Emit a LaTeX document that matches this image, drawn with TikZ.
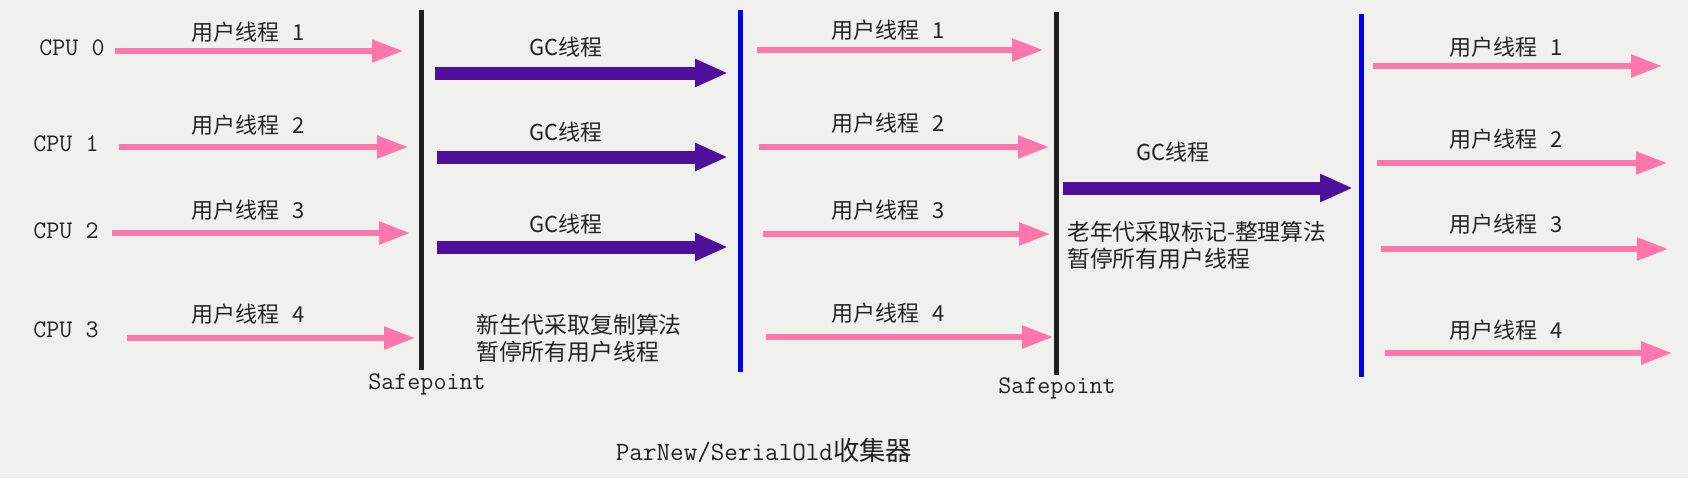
\documentclass[tikz,border=0pt]{standalone}
\usepackage{fontspec}
\newfontfamily\cjk{Noto Sans CJK SC}
\usetikzlibrary{arrows.meta}

\definecolor{bgcol}{RGB}{240,241,239}
\definecolor{userpink}{RGB}{255,118,170}
\definecolor{gcpurple}{RGB}{78,16,154}
\definecolor{barblue}{RGB}{0,0,235}
\definecolor{barblack}{RGB}{30,30,30}
\definecolor{txtgray}{RGB}{35,35,35}

\tikzset{
  user/.style={draw=userpink, line width=0.11cm, -{Triangle[length=0.62cm,width=0.44cm]}},
  gcarrow/.style={draw=gcpurple, line width=0.26cm, -{Triangle[length=0.66cm,width=0.52cm]}},
  safebar/.style={draw=barblack, line width=0.1cm},
  endbar/.style={draw=barblue, line width=0.1cm},
  mono/.style={font=\ttfamily\fontsize{14.4}{16}\selectfont, text=txtgray},
  lbl/.style={font=\cjk\fontsize{12.5}{15}\selectfont, text=txtgray},
  note/.style={font=\cjk\fontsize{13}{15.5}\selectfont, text=txtgray, align=left, anchor=west}
}

\begin{document}
\begin{tikzpicture}[x=0.02cm, y=-0.02cm]
  \fill[bgcol] (0,0) rectangle (1688,478);

  % cpus
  \node[mono] (cpu0) at (72,48) {CPU 0};
  \node[mono] (cpu1) at (66,144) {CPU 1};
  \node[mono] (cpu2) at (66,231) {CPU 2};
  \node[mono] (cpu3) at (66,330) {CPU 3};

  % user threads before the first safepoint
  \coordinate (a1s) at (115,51);  \coordinate (a1e) at (403,51);
  \coordinate (a2s) at (119,147); \coordinate (a2e) at (408,147);
  \coordinate (a3s) at (112,233); \coordinate (a3e) at (410,233);
  \coordinate (a4s) at (127,338); \coordinate (a4e) at (415,338);
  \draw[user] (a1s) -- (a1e);
  \draw[user] (a2s) -- (a2e);
  \draw[user] (a3s) -- (a3e);
  \draw[user] (a4s) -- (a4e);
  \node[lbl] (la1) at (248,32) {用户线程\hspace{0.6em}1};
  \node[lbl] (la2) at (248,125) {用户线程\hspace{0.6em}2};
  \node[lbl] (la3) at (248,210) {用户线程\hspace{0.6em}3};
  \node[lbl] (la4) at (248,314) {用户线程\hspace{0.6em}4};

  % first safepoint
  \coordinate (sp1t) at (421,10); \coordinate (sp1b) at (421,370);
  \draw[safebar] (sp1t) -- (sp1b);
  \node[mono] (sp1) at (427,384) {Safepoint};

  % young gc threads
  \coordinate (g1s) at (435,73);  \coordinate (g1e) at (728,73);
  \coordinate (g2s) at (437,157); \coordinate (g2e) at (728,157);
  \coordinate (g3s) at (437,247); \coordinate (g3e) at (728,247);
  \draw[gcarrow] (g1s) -- (g1e);
  \draw[gcarrow] (g2s) -- (g2e);
  \draw[gcarrow] (g3s) -- (g3e);
  \node[lbl] (lg1) at (566,47) {GC线程};
  \node[lbl] (lg2) at (566,132) {GC线程};
  \node[lbl] (lg3) at (566,224) {GC线程};
  \node[note] (young) at (470,338) {新生代采取复制算法\\暂停所有用户线程};

  \coordinate (e1t) at (740,10); \coordinate (e1b) at (740,372);
  \draw[endbar] (e1t) -- (e1b);

  % user threads before the second safepoint
  \coordinate (b1s) at (757,50);  \coordinate (b1e) at (1043,50);
  \coordinate (b2s) at (759,147); \coordinate (b2e) at (1049,147);
  \coordinate (b3s) at (763,234); \coordinate (b3e) at (1050,234);
  \coordinate (b4s) at (766,337); \coordinate (b4e) at (1053,337);
  \draw[user] (b1s) -- (b1e);
  \draw[user] (b2s) -- (b2e);
  \draw[user] (b3s) -- (b3e);
  \draw[user] (b4s) -- (b4e);
  \node[lbl] (lb1) at (888,30) {用户线程\hspace{0.6em}1};
  \node[lbl] (lb2) at (888,123) {用户线程\hspace{0.6em}2};
  \node[lbl] (lb3) at (888,210) {用户线程\hspace{0.6em}3};
  \node[lbl] (lb4) at (888,313) {用户线程\hspace{0.6em}4};

  % second safepoint
  \coordinate (sp2t) at (1056,12); \coordinate (sp2b) at (1056,375);
  \draw[safebar] (sp2t) -- (sp2b);
  \node[mono] (sp2) at (1057,388) {Safepoint};

  % old gc thread
  \coordinate (g4s) at (1063,188); \coordinate (g4e) at (1353,188);
  \draw[gcarrow] (g4s) -- (g4e);
  \node[lbl] (lg4) at (1173,152) {GC线程};
  \node[note] (old) at (1061,245) {老年代采取标记-整理算法\\暂停所有用户线程};

  \coordinate (e2t) at (1361,14); \coordinate (e2b) at (1361,377);
  \draw[endbar] (e2t) -- (e2b);

  % user threads resumed
  \coordinate (c1s) at (1373,66);  \coordinate (c1e) at (1662,66);
  \coordinate (c2s) at (1377,163); \coordinate (c2e) at (1667,163);
  \coordinate (c3s) at (1381,249); \coordinate (c3e) at (1668,249);
  \coordinate (c4s) at (1385,353); \coordinate (c4e) at (1672,353);
  \draw[user] (c1s) -- (c1e);
  \draw[user] (c2s) -- (c2e);
  \draw[user] (c3s) -- (c3e);
  \draw[user] (c4s) -- (c4e);
  \node[lbl] (lc1) at (1506,47) {用户线程\hspace{0.6em}1};
  \node[lbl] (lc2) at (1506,139) {用户线程\hspace{0.6em}2};
  \node[lbl] (lc3) at (1506,224) {用户线程\hspace{0.6em}3};
  \node[lbl] (lc4) at (1506,330) {用户线程\hspace{0.6em}4};

  \node[mono, font=\ttfamily\fontsize{15}{17}\selectfont] (title) at (764,450) {ParNew/SerialOld{\cjk 收集器}};
\end{tikzpicture}
\end{document}
